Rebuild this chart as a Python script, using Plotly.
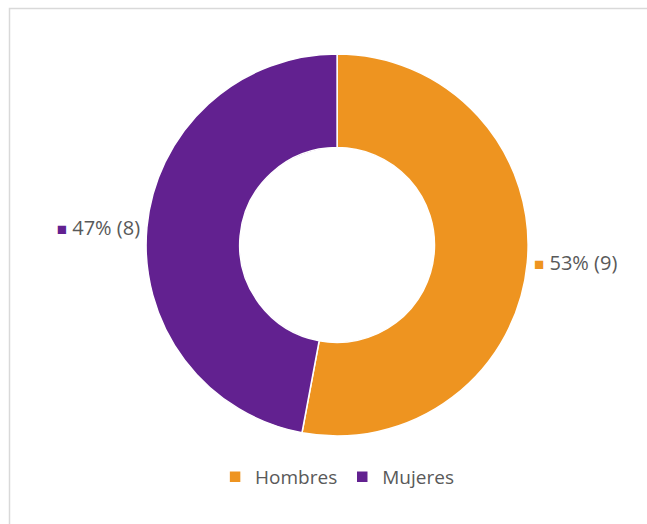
import plotly.graph_objects as go

# Datos
categorias = ['Hombres', 'Mujeres']
valores = [9, 8]
colores = ['#EE9420', '#622190']

W, H = 647, 524

etiquetas = [
    "<span style='color:%s;font-size:17px'>■</span> %%{percent:.0%%} (%%{value})" % c
    for c in colores
]

fig = go.Figure()

fig.add_trace(go.Pie(
    labels=categorias,
    values=valores,
    hole=0.51,
    sort=False,
    direction='clockwise',
    rotation=0,
    marker=dict(colors=colores, line=dict(color='white', width=1.5)),
    textposition='outside',
    texttemplate=etiquetas,
    outsidetextfont=dict(family='Open Sans', size=20, color='#595959'),
    domain=dict(x=[0.121, 0.921], y=[1 - 436 / H, 1 - 54 / H]),
    showlegend=True,
    automargin=False,
))

fig.update_layout(
    width=W,
    height=H,
    margin=dict(l=0, r=0, t=0, b=0),
    paper_bgcolor='white',
    plot_bgcolor='white',
    legend=dict(
        orientation='h',
        x=0.521, xanchor='center',
        y=1 - 477 / H, yanchor='middle',
        font=dict(family='Open Sans', size=19, color='#595959'),
        traceorder='normal',
    ),
    # marco gris del grafico (se sale por la derecha y por abajo)
    shapes=[dict(
        type='rect', xref='paper', yref='paper',
        x0=9.5 / W, x1=1.05, y0=-0.05, y1=1 - 8.5 / H,
        line=dict(color='#D9D9D9', width=1.5),
        fillcolor='rgba(0,0,0,0)', layer='below',
    )],
)

fig.write_html("out.html", config={'displayModeBar': False},
               post_script="document.body.style.margin='0';")
